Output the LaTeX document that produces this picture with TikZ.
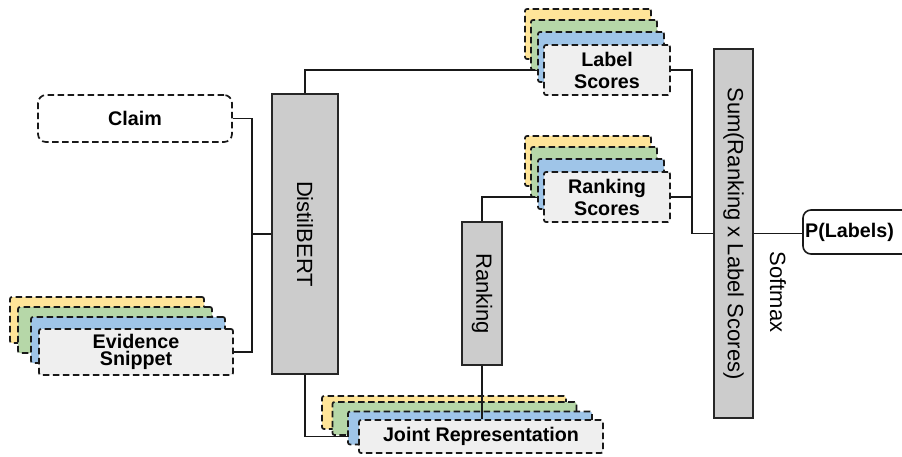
\documentclass[tikz,border=0pt]{standalone}
\usepackage{fontspec}
\setmainfont{Liberation Sans}
\pgfdeclarelayer{bg}
\pgfsetlayers{bg,main}
\definecolor{ly}{HTML}{FFE599}
\definecolor{lg}{HTML}{B6D7A8}
\definecolor{lb}{HTML}{9FC5E8}
\definecolor{lf}{HTML}{EFEFEF}
\definecolor{gb}{HTML}{CCCCCC}
\begin{document}
\begin{tikzpicture}[x=1pt,y=-1pt,
  conn/.style={line width=1.6pt,draw=black!90},
  dsh/.style={draw=black!90,line width=1.7pt,dash pattern=on 6.5pt off 3.5pt},
  layer/.style={dsh,rounded corners=2pt,inner sep=0pt},
  gbox/.style={draw=black!85,fill=gb,line width=1.8pt,inner sep=0pt},
  btxt/.style={font=\fontsize{19.7}{22}\selectfont\bfseries,align=center},
  rtxt/.style={font=\fontsize{22}{24}\selectfont,rotate=-90}]
\useasboundingbox (0,0) rectangle (902,457);
\clip (0,0) rectangle (902,457);
% Claim
\node[dsh,rounded corners=8pt,fill=white,minimum width=194pt,minimum height=47pt,btxt] (claim) at (135,118.5) {Claim};
% Evidence stack
\node[layer,fill=ly,minimum width=194pt,minimum height=46pt] (ev1) at (107,320) {};
\node[layer,fill=lg,minimum width=194pt,minimum height=46pt] (ev2) at (115,330) {};
\node[layer,fill=lb,minimum width=194pt,minimum height=46pt] (ev3) at (128,340) {};
\node[layer,fill=lf,minimum width=194pt,minimum height=46pt,btxt,font=\fontsize{19.7}{17.5}\selectfont\bfseries] (ev) at (136,352) {Evidence\\Snippet};
% DistilBERT
\node[gbox,minimum width=66pt,minimum height=280pt] (distil) at (305,234) {};
\node[rtxt] at (distil.center) {DistilBERT};
% Label scores stack
\node[layer,fill=ly,minimum width=126pt,minimum height=50pt] (ls1) at (588,34) {};
\node[layer,fill=lg,minimum width=126pt,minimum height=50pt] (ls2) at (594,45) {};
\node[layer,fill=lb,minimum width=126pt,minimum height=50pt] (ls3) at (601,57) {};
\node[layer,fill=lf,minimum width=126pt,minimum height=50pt,btxt] (ls) at (607,70) {Label\\Scores};
% Ranking scores stack
\node[layer,fill=ly,minimum width=126pt,minimum height=50pt] (rs1) at (588,161) {};
\node[layer,fill=lg,minimum width=126pt,minimum height=50pt] (rs2) at (594,172) {};
\node[layer,fill=lb,minimum width=126pt,minimum height=50pt] (rs3) at (601,184) {};
\node[layer,fill=lf,minimum width=126pt,minimum height=50pt,btxt] (rs) at (607,197) {Ranking\\Scores};
% Ranking box
\node[gbox,minimum width=40pt,minimum height=143pt] (rank) at (482,293.5) {};
\node[rtxt] at (rank.center) {Ranking};
% Joint representation stack
\node[layer,fill=ly,minimum width=244pt,minimum height=33pt] (jr1) at (444,412.5) {};
\node[layer,fill=lg,minimum width=244pt,minimum height=33pt] (jr2) at (454.5,418.5) {};
\node[layer,fill=lb,minimum width=244pt,minimum height=33pt] (jr3) at (470,428) {};
\node[layer,fill=lf,minimum width=244pt,minimum height=33pt,btxt] (jr) at (481,436.5) {Joint Representation};
% Sum box
\node[gbox,minimum width=39pt,minimum height=369pt] (sum) at (733.5,233.5) {};
\node[rtxt] at (sum.center) {Sum(Ranking x Label Scores)};
% P(Labels)
\node[draw=black!90,line width=1.6pt,rounded corners=8pt,minimum width=112pt,minimum height=44pt] (pl) at (859,232) {};
\node[btxt,anchor=west,inner sep=0pt] (plt) at (805,232) {P(Labels)};
\node[rtxt] (soft) at (778,292) {Softmax};
% junctions
\coordinate (jL) at (252,234);
\coordinate (jR) at (692,233.5);
\begin{pgfonlayer}{bg}
\draw[conn] (claim.east) -| (jL) -- (distil.west);
\draw[conn] (ev.east) -| (jL);
\draw[conn] (distil.north) |- (ls.west);
\draw[conn] (distil.south) |- (jr.west);
\draw[conn] (ls.east) -| (jR) -- (sum.west);
\draw[conn] (rs.east) -| (jR);
\draw[conn] (rs.west) -| (rank.north);
\draw[conn] (sum.east) -- (sum.east -| pl.west);
\end{pgfonlayer}
\draw[conn] (rank.south) -- (rank.south |- jr.north);
\end{tikzpicture}
\end{document}
